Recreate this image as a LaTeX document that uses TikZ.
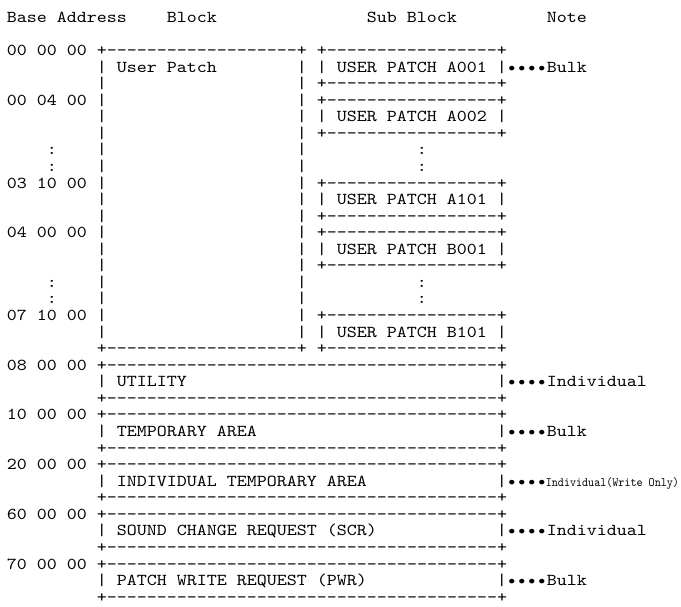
\documentclass[tikz,border=0pt]{standalone}
\usepackage{fontspec}
\newfontfamily\asciifont{lmmono10-regular.otf}[FakeStretch=1.143]
\newfontfamily\narrowfont{lmmono10-regular.otf}[FakeStretch=0.9]

\begin{document}
\begin{tikzpicture}[x=10pt, y=-16.57pt,
    txt/.style={anchor=base west, inner sep=0pt, font=\asciifont\fontsize{16.67}{16.67}\selectfont},
    tiny/.style={anchor=base west, inner sep=0pt, font=\narrowfont\fontsize{12.8}{12.8}\selectfont}]
  \useasboundingbox (0pt,0pt) rectangle (681pt,-606pt);
  \begin{scope}[shift={(6.7pt,-22.3pt)}]
    % header
    \node[txt] (hdbase)  at (0,0)  {Base Address};
    \node[txt] (hdblock) at (16,0) {Block};
    \node[txt] (hdsub)   at (36,0) {Sub Block};
    \node[txt] (hdnote)  at (54,0) {Note};
    % addresses
    \foreach \r/\addr in {2/00 00 00, 5/00 04 00, 10/03 10 00, 13/04 00 00, 18/07 10 00,
                          21/08 00 00, 24/10 00 00, 27/20 00 00, 30/60 00 00, 33/70 00 00} {
      \node[txt] (addr\r) at (0,\r) {\addr};
    }
    \foreach \r in {8,9,16,17} {
      \node[txt] (skipa\r) at (4,\r) {:};
      \node[txt] (skipb\r) at (41,\r) {:};
    }
    % user patch block
    \node[txt] (blktop) at (9,2)  {+-------------------+};
    \node[txt] (blkbot) at (9,20) {+-------------------+};
    \foreach \r in {3,...,19} {
      \node[txt] (blkl\r) at (9,\r)  {|};
      \node[txt] (blkr\r) at (29,\r) {|};
    }
    \node[txt] (userpatch) at (11,3) {User Patch};
    % sub blocks
    \foreach \r/\id in {2/A001, 5/A002, 10/A101, 13/B001, 18/B101} {
      \node[txt] (subtop\id) at (31,\r)   {+-----------------+};
      \node[txt] (sub\id)    at (31,\r+1) {| USER PATCH \id\space|};
      \node[txt] (subbot\id) at (31,\r+2) {+-----------------+};
    }
    \node[txt] (dotsA) at (50,3) {••••};
    \node[txt] (noteA) at (54,3) {Bulk};
    % other areas
    \foreach \r/\area in {21/UTILITY, 24/TEMPORARY AREA, 27/INDIVIDUAL TEMPORARY AREA,
                          30/SOUND CHANGE REQUEST (SCR), 33/PATCH WRITE REQUEST (PWR)} {
      \node[txt] (top\r)  at (9,\r)   {+---------------------------------------+};
      \node[txt] (l\r)    at (9,\r+1) {|};
      \node[txt] (area\r) at (11,\r+1) {\area};
      \node[txt] (r\r)    at (49,\r+1) {|};
      \node[txt] (dots\r) at (50,\r+1) {••••};
      \node[txt] (bot\r)  at (9,\r+2) {+---------------------------------------+};
    }
    \node[txt]  (note21) at (54,22) {Individual};
    \node[txt]  (note24) at (54,25) {Bulk};
    \node[tiny] (note27) at (53.9,28) {Individual(Write Only)};
    \node[txt]  (note30) at (54,31) {Individual};
    \node[txt]  (note33) at (54,34) {Bulk};
  \end{scope}
\end{tikzpicture}
\end{document}
